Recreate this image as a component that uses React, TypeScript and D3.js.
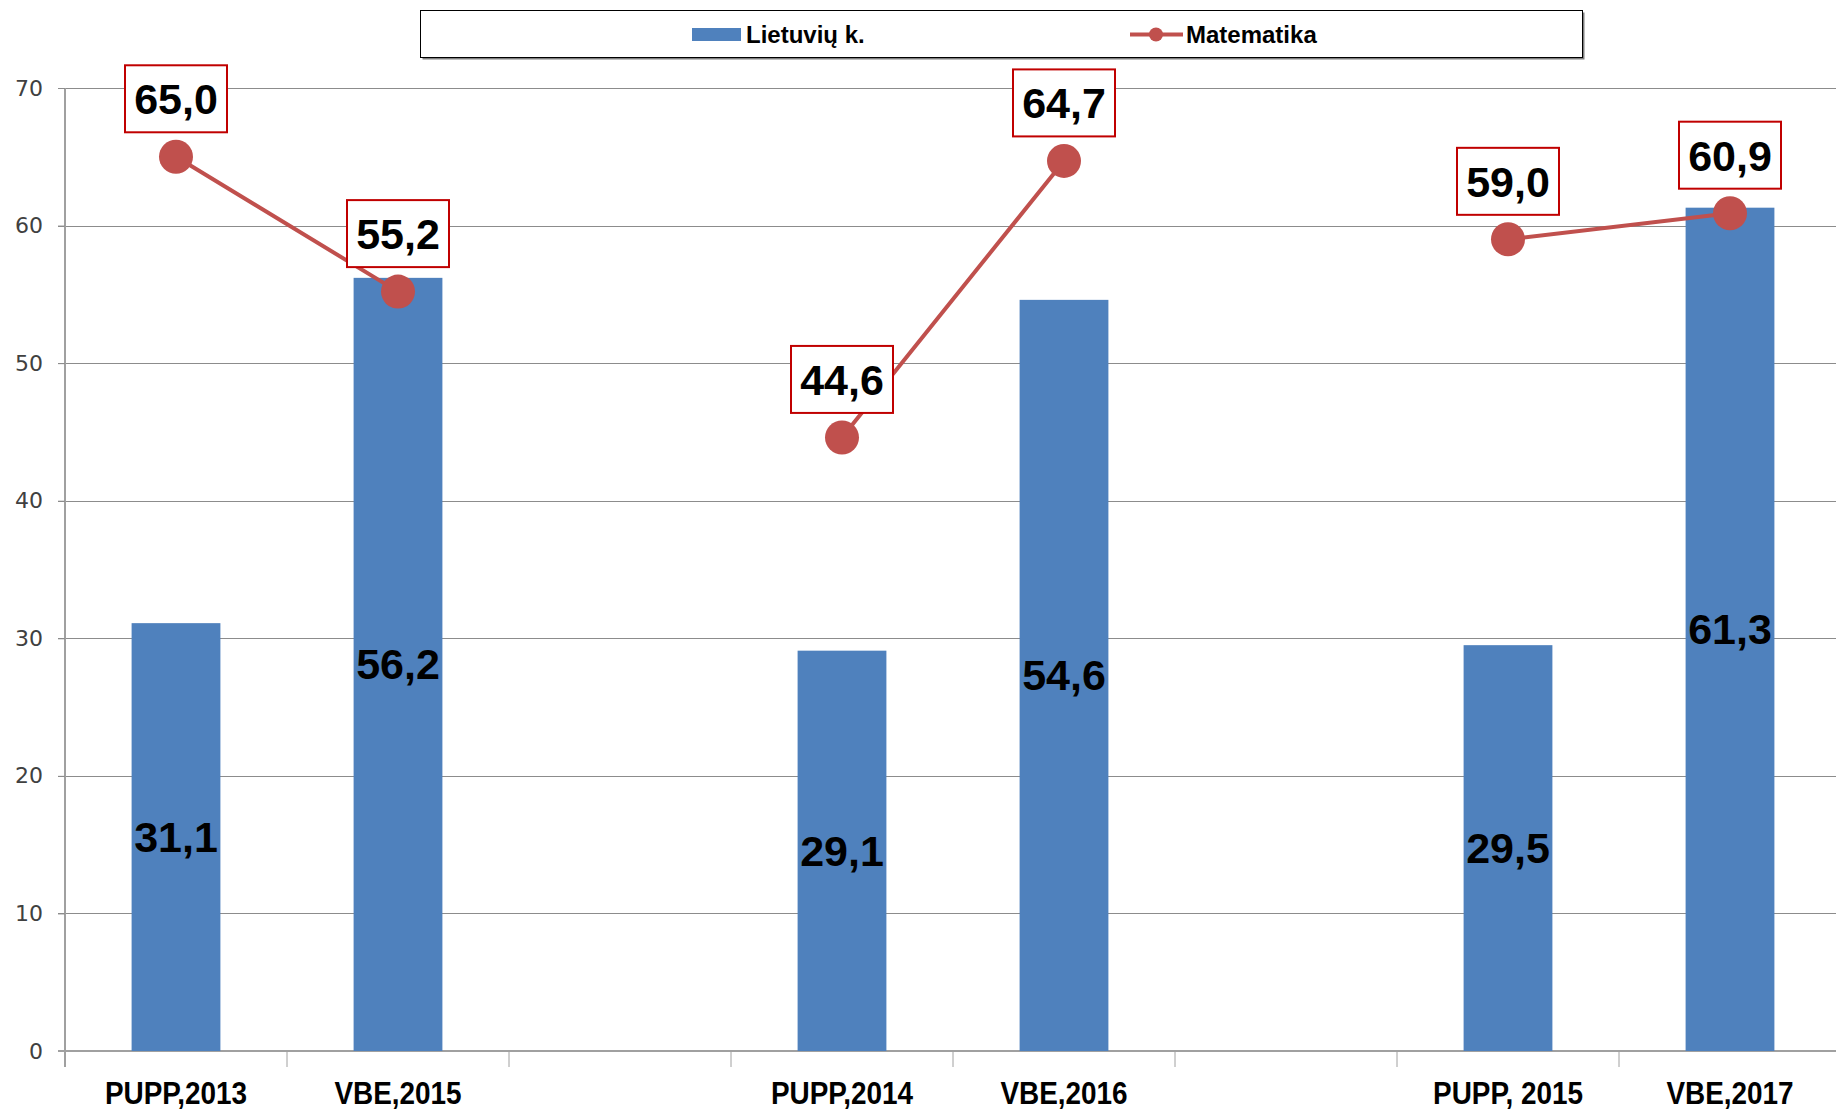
import React, { useEffect, useRef } from "react";
import * as d3 from "d3";

// categories (blank ones are the gaps between the groups)
const categories = ["PUPP,2013", "VBE,2015", "gap1", "PUPP,2014", "VBE,2016", "gap2", "PUPP, 2015", "VBE,2017"];
const lietuviu: (number | null)[] = [31.1, 56.2, null, 29.1, 54.6, null, 29.5, 61.3];
const matematika: (number | null)[] = [65.0, 55.2, null, 44.6, 64.7, null, 59.0, 60.9];
const yTicks = [0, 10, 20, 30, 40, 50, 60, 70];
const seriesNames = ["Lietuvių k.", "Matematika"];

const W = 1836;
const H = 1110;

const fmt = (v: number) => d3.format(".1f")(v).replace(".", ",");

export default function App() {
  const ref = useRef<SVGSVGElement>(null);

  useEffect(() => {
    const svg = d3.select(ref.current);
    svg.selectAll("*").remove();

    const left = 65, top = 88, bottom = 1051;
    const x = d3.scaleBand().domain(categories).range([left, left + 8 * 222]).padding(0);
    const y = d3.scaleLinear().domain([0, 70]).range([bottom, top]);

    const narrow = "'Liberation Sans Narrow', 'Liberation Sans', Arial, sans-serif";
    const sans = "'Liberation Sans', Arial, sans-serif";

    // gridlines
    svg.append("g")
      .selectAll("line")
      .data(yTicks.filter(t => t > 0))
      .join("line")
      .attr("x1", left - 7).attr("x2", W)
      .attr("y1", d => Math.round(y(d)) + 0.5).attr("y2", d => Math.round(y(d)) + 0.5)
      .attr("stroke", "#8c8c8c").attr("stroke-width", 1);

    // y axis
    const yAxis = svg.append("g")
      .attr("transform", `translate(${left},0)`)
      .call(d3.axisLeft(y).tickValues(yTicks).tickSize(7).tickPadding(15).tickFormat(d3.format("d")));
    yAxis.select(".domain").attr("stroke", "#a0a0a0").attr("stroke-width", 2).attr("d", `M0,${top}V${bottom + 16}`);
    yAxis.selectAll(".tick line").attr("stroke", "#8c8c8c");
    yAxis.selectAll(".tick text")
      .attr("font-family", "'DejaVu Sans', Verdana, sans-serif")
      .attr("font-size", 22).attr("fill", "#404040");

    // x axis
    svg.append("line")
      .attr("x1", left - 7).attr("x2", W)
      .attr("y1", bottom).attr("y2", bottom)
      .attr("stroke", "#a0a0a0").attr("stroke-width", 2);
    const bounds = categories.map(c => x(c)!);
    svg.append("g")
      .selectAll("line")
      .data(bounds)
      .join("line")
      .attr("x1", d => d).attr("x2", d => d)
      .attr("y1", bottom).attr("y2", bottom + 16)
      .attr("stroke", "#a0a0a0").attr("stroke-width", 1);
    svg.append("g")
      .selectAll("text")
      .data(categories.filter(c => !c.startsWith("gap")))
      .join("text")
      .attr("transform", d => `translate(${x(d)! + x.bandwidth() / 2},1104) scale(0.9,1)`)
      .attr("text-anchor", "middle")
      .attr("font-family", narrow).attr("font-weight", "bold").attr("font-size", 31)
      .attr("fill", "#000")
      .text(d => d);

    // bars
    const bw = x.bandwidth() * 0.4;
    const barData = categories.map((c, i) => ({ c, v: lietuviu[i] })).filter(d => d.v != null) as { c: string; v: number }[];
    svg.append("g")
      .selectAll("rect")
      .data(barData)
      .join("rect")
      .attr("x", d => x(d.c)! + (x.bandwidth() - bw) / 2)
      .attr("y", d => y(d.v))
      .attr("width", bw)
      .attr("height", d => bottom - y(d.v))
      .attr("fill", "#4F81BD");
    svg.append("g")
      .selectAll("text")
      .data(barData)
      .join("text")
      .attr("x", d => x(d.c)! + x.bandwidth() / 2)
      .attr("y", d => y(d.v / 2))
      .attr("dy", "0.35em")
      .attr("text-anchor", "middle")
      .attr("font-family", sans).attr("font-weight", "bold").attr("font-size", 43)
      .attr("fill", "#000")
      .text(d => fmt(d.v));

    // line
    const lineData = categories.map((c, i) => ({ c, v: matematika[i] }));
    const line = d3.line<{ c: string; v: number | null }>()
      .defined(d => d.v != null)
      .x(d => x(d.c)! + x.bandwidth() / 2)
      .y(d => y(d.v as number));
    svg.append("path")
      .datum(lineData)
      .attr("d", line)
      .attr("fill", "none")
      .attr("stroke", "#C0504D").attr("stroke-width", 4);
    const pts = lineData.filter(d => d.v != null) as { c: string; v: number }[];
    svg.append("g")
      .selectAll("circle")
      .data(pts)
      .join("circle")
      .attr("cx", d => x(d.c)! + x.bandwidth() / 2)
      .attr("cy", d => y(d.v))
      .attr("r", 17)
      .attr("fill", "#C0504D");

    // boxed labels
    const lab = svg.append("g")
      .selectAll("g")
      .data(pts)
      .join("g")
      .attr("transform", d => `translate(${x(d.c)! + x.bandwidth() / 2},${y(d.v) - 24 - 34})`);
    lab.append("rect")
      .attr("x", -51).attr("y", -33.5).attr("width", 102).attr("height", 67)
      .attr("fill", "#fff").attr("stroke", "#C00000").attr("stroke-width", 2);
    lab.append("text")
      .attr("dy", "0.36em")
      .attr("text-anchor", "middle")
      .attr("font-family", sans).attr("font-weight", "bold").attr("font-size", 43)
      .attr("fill", "#000")
      .text(d => fmt(d.v));

    // legend
    const lg = svg.append("g");
    lg.append("rect").attr("x", 422.5).attr("y", 12.5).attr("width", 1162).attr("height", 47).attr("fill", "#7f7f7f");
    lg.append("rect").attr("x", 420.5).attr("y", 10.5).attr("width", 1162).attr("height", 47)
      .attr("fill", "#fff").attr("stroke", "#000").attr("stroke-width", 1);
    lg.append("rect").attr("x", 692).attr("y", 28).attr("width", 49).attr("height", 13).attr("fill", "#4F81BD");
    lg.append("line").attr("x1", 1130).attr("x2", 1183).attr("y1", 34.5).attr("y2", 34.5)
      .attr("stroke", "#C0504D").attr("stroke-width", 4);
    lg.append("circle").attr("cx", 1156).attr("cy", 34.5).attr("r", 7).attr("fill", "#C0504D");
    lg.selectAll("text.lt")
      .data(seriesNames)
      .join("text")
      .attr("class", "lt")
      .attr("x", (d, i) => (i === 0 ? 746 : 1186))
      .attr("y", 43)
      .attr("font-family", narrow).attr("font-weight", "bold").attr("font-size", 24)
      .attr("fill", "#000")
      .text(d => d);
  }, []);

  return (
    <svg ref={ref} width={W} height={H} style={{ position: "absolute", left: 0, top: 0, background: "#fff" }} />
  );
}
